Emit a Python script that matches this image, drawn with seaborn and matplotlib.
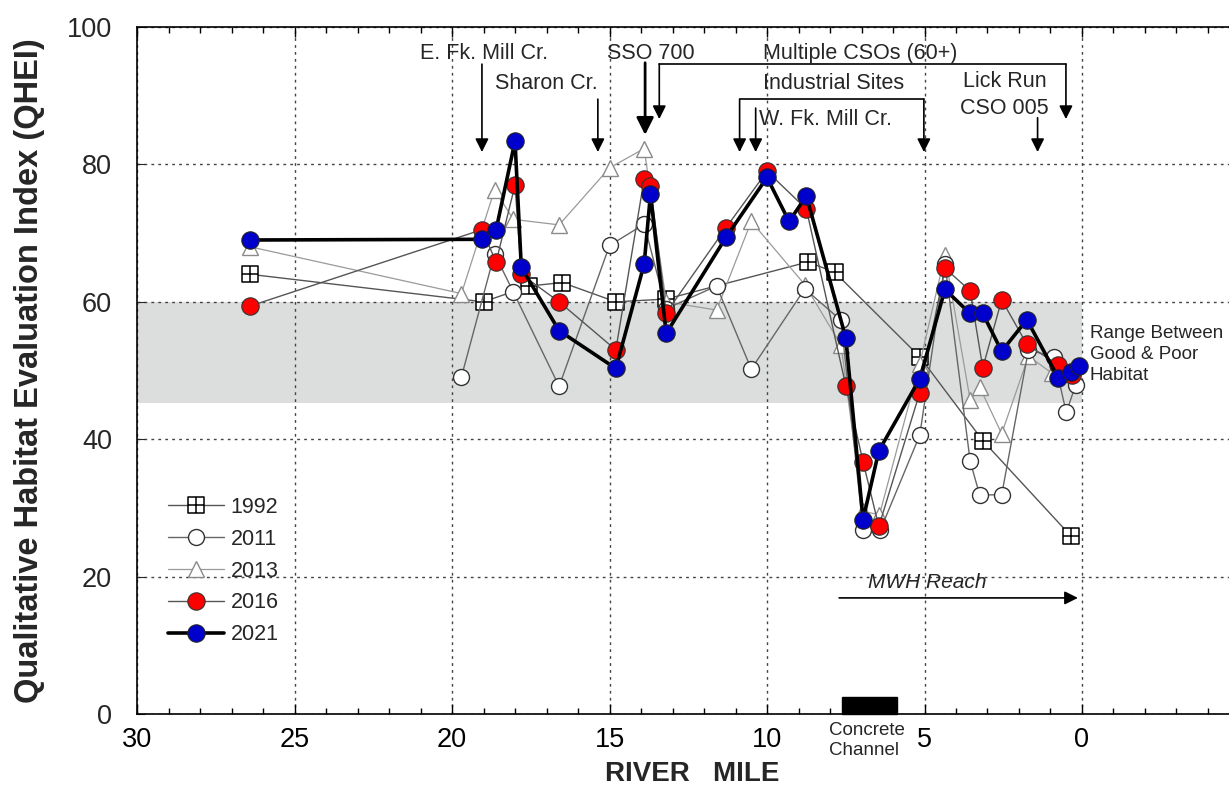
import pandas as pd
import seaborn as sns
import matplotlib.pyplot as plt
from matplotlib.path import Path
from matplotlib.patches import Rectangle

# QHEI by river mile
miles_1992 = [26.4, 19.0, 17.55, 16.5, 14.8, 13.2, 8.7, 7.85, 5.15, 3.15, 0.35]
qhei_1992 = [64.0, 60.0, 62.3, 62.8, 60.0, 60.4, 65.8, 64.3, 52.0, 39.8, 25.9]

miles_2011 = [19.7, 18.65, 18.05, 16.6, 15.0, 13.9, 13.2, 11.6, 10.5, 8.8, 7.65,
              6.95, 6.4, 5.15, 4.35, 3.55, 3.25, 2.55, 1.7, 0.9, 0.5, 0.2]
qhei_2011 = [49.1, 67.0, 61.4, 47.7, 68.2, 71.3, 59.0, 62.3, 50.2, 61.9, 57.3,
             26.8, 26.8, 40.6, 65.5, 36.8, 31.9, 31.9, 53.0, 52.0, 43.9, 47.9]

miles_2013 = [26.4, 19.7, 18.65, 18.05, 16.6, 15.0, 13.9, 13.2, 11.6, 10.5, 8.8,
              7.65, 6.95, 6.43, 5.15, 4.35, 3.55, 3.25, 2.55, 1.7, 0.95, 0.3]
qhei_2013 = [68.0, 61.2, 76.3, 72.0, 71.2, 79.5, 82.3, 60.0, 58.8, 71.7, 62.5,
             53.7, 29.5, 29.0, 51.0, 66.8, 45.7, 47.6, 40.8, 52.1, 49.6, 49.5]

miles_2016 = [26.4, 19.05, 18.6, 18.0, 17.8, 16.6, 14.8, 13.9, 13.7, 13.2, 11.3, 10.0,
              8.75, 7.5, 6.95, 6.45, 5.15, 4.35, 3.55, 3.15, 2.55, 1.75, 0.75, 0.33]
qhei_2016 = [59.4, 70.5, 65.8, 77.0, 64.0, 60.0, 53.0, 77.9, 76.9, 58.4, 70.8, 79.0,
             73.5, 47.8, 36.7, 27.3, 46.8, 64.9, 61.6, 50.4, 60.3, 53.8, 50.8, 49.3]

miles_2021 = [26.4, 19.05, 18.6, 18.0, 17.8, 16.6, 14.8, 13.9, 13.7, 13.2, 11.3, 10.0, 9.3,
              8.75, 7.5, 6.95, 6.45, 5.15, 4.35, 3.55, 3.15, 2.55, 1.75, 0.75, 0.35, 0.08]
qhei_2021 = [69.0, 69.1, 70.5, 83.4, 65.0, 55.8, 50.3, 65.5, 75.7, 55.4, 69.4, 78.1, 71.7,
             75.4, 54.8, 28.3, 38.3, 48.8, 61.8, 58.3, 58.3, 52.8, 57.4, 48.9, 49.8, 50.6]

years = ['1992', '2011', '2013', '2016', '2021']
band_low, band_high = 45.3, 60.0

sns.set_style('white')
plt.rcParams['font.family'] = ['Liberation Sans', 'DejaVu Sans']

fig = plt.figure(figsize=(12.29, 7.88), dpi=100)
ax = fig.add_axes([0.1115, 0.0939, 0.8885, 0.8718])

# square with a cross for 1992
box_cross = Path([(-1, -1), (1, -1), (1, 1), (-1, 1), (-1, -1), (0, -1), (0, 1), (-1, 0), (1, 0)],
                 [Path.MOVETO, Path.LINETO, Path.LINETO, Path.LINETO, Path.CLOSEPOLY,
                  Path.MOVETO, Path.LINETO, Path.MOVETO, Path.LINETO])

styles = {
    '1992': dict(color='#555555', lw=1.0, marker=box_cross, markersize=12,
                 markerfacecolor='white', markeredgecolor='black', markeredgewidth=1.1, zorder=3),
    '2011': dict(color='#666666', lw=1.0, marker='o', markersize=11.5,
                 markerfacecolor='white', markeredgecolor='#333333', markeredgewidth=1.0, zorder=3.5),
    '2013': dict(color='#9a9a9a', lw=0.9, marker='^', markersize=11.5,
                 markerfacecolor='white', markeredgecolor='#8a8a8a', markeredgewidth=1.0, zorder=3.2),
    '2016': dict(color='#555555', lw=1.0, marker='o', markersize=12.5,
                 markerfacecolor='#ff0000', markeredgecolor='#333333', markeredgewidth=0.8, zorder=5),
    '2021': dict(color='black', lw=2.6, marker='o', markersize=12.5,
                 markerfacecolor='#0000cc', markeredgecolor='#222222', markeredgewidth=0.8, zorder=6),
}
series = {
    '1992': (miles_1992, qhei_1992),
    '2011': (miles_2011, qhei_2011),
    '2013': (miles_2013, qhei_2013),
    '2016': (miles_2016, qhei_2016),
    '2021': (miles_2021, qhei_2021),
}

# range between good and poor habitat
ax.fill_between([30, 0], band_low, band_high, color='#dcdddd', lw=0, zorder=0.2)

for yr in years:
    m, q = series[yr]
    df = pd.DataFrame({'mile': m, 'qhei': q})
    sns.lineplot(data=df, x='mile', y='qhei', sort=False, estimator=None,
                 ax=ax, label=yr, **styles[yr])

ax.set_xlim(30, -4.667)
ax.set_ylim(0, 100)
ax.set_xticks(range(0, 31, 5))
ax.set_xticks(range(-4, 31), minor=True)
ax.set_yticks(range(0, 101, 20))
ax.tick_params(axis='x', which='both', direction='in', top=True, bottom=True,
               labelsize=19.5, pad=9, colors='black')
ax.tick_params(axis='x', which='major', length=7, width=1)
ax.tick_params(axis='x', which='minor', length=4, width=1)
ax.tick_params(axis='y', direction='in', left=True, right=False, length=6,
               labelsize=19.5, pad=18)
ax.set_axisbelow(True)
ax.grid(True, which='major', linestyle=(0, (2, 3)), color='#444444', lw=1)
ax.spines['right'].set_visible(False)
for s in ['left', 'bottom', 'top']:
    ax.spines[s].set_color('black')
    ax.spines[s].set_linewidth(1.2)

ax.set_xlabel('RIVER   MILE', fontsize=20, fontweight='bold')
ax.xaxis.set_label_coords(0.508, -0.068)
ax.set_ylabel('Qualitative Habitat Evaluation Index (QHEI)', fontsize=23.5, fontweight='bold')
ax.yaxis.set_label_coords(-0.084, 0.5)

handles, labels = ax.get_legend_handles_labels()
ax.legend(handles, labels, loc='upper left', bbox_to_anchor=(168 / 1229, 1 - 497 / 788),
          bbox_transform=fig.transFigure, frameon=False, fontsize=15.5,
          handlelength=2.6, handletextpad=0.3, labelspacing=0.5,
          borderpad=0, borderaxespad=0)


def down_arrow(x, y0, y1, lw=1.2, head=20):
    ax.annotate('', xy=(x, y1), xytext=(x, y0),
                arrowprops=dict(arrowstyle='-|>', color='black', lw=lw,
                                mutation_scale=head, shrinkA=0, shrinkB=0))


fs = 15.5
ax.text(18.97, 96.2, 'E. Fk. Mill Cr.', fontsize=fs, ha='center', va='center')
down_arrow(19.05, 94.6, 81.8)
ax.text(17.0, 91.8, 'Sharon Cr.', fontsize=fs, ha='center', va='center')
down_arrow(15.37, 89.5, 81.8)
ax.text(13.7, 96.2, 'SSO 700', fontsize=fs, ha='center', va='center')
down_arrow(13.87, 94.8, 84.3, lw=2.0, head=26)

ax.text(10.13, 96.2, 'Multiple CSOs (60+)', fontsize=fs, ha='left', va='center')
ax.plot([13.42, 0.51], [94.6, 94.6], color='black', lw=1.2)
down_arrow(13.42, 94.6, 86.6)
down_arrow(0.51, 94.6, 86.6)

ax.text(10.13, 91.8, 'Industrial Sites', fontsize=fs, ha='left', va='center')
ax.plot([10.87, 5.02], [89.5, 89.5], color='black', lw=1.2)
down_arrow(10.87, 89.5, 81.8)
down_arrow(5.02, 89.5, 81.8)

ax.text(10.25, 86.5, 'W. Fk. Mill Cr.', fontsize=fs, ha='left', va='center')
down_arrow(10.36, 88.2, 81.8)

ax.text(2.46, 92.0, 'Lick Run', fontsize=fs, ha='center', va='center')
ax.text(2.46, 88.2, 'CSO 005', fontsize=fs, ha='center', va='center')
down_arrow(1.41, 86.8, 81.8)

ax.text(-0.25, 52.3, 'Range Between\nGood & Poor\nHabitat', fontsize=13.5,
        ha='left', va='center', linespacing=1.3)

ax.text(4.92, 19.2, 'MWH Reach', fontsize=15, style='italic', ha='center', va='center')
ax.annotate('', xy=(0.13, 16.9), xytext=(7.71, 16.9),
            arrowprops=dict(arrowstyle='-|>', color='black', lw=1.2,
                            mutation_scale=20, shrinkA=0, shrinkB=0))

ax.add_patch(Rectangle((5.88, 0), 1.75, 2.43, color='black', zorder=7, clip_on=False))
ax.text(8.03, -1.2, 'Concrete\nChannel', fontsize=13.5, ha='left', va='top',
        linespacing=1.2, clip_on=False)

fig.savefig('out.png', dpi=100)
